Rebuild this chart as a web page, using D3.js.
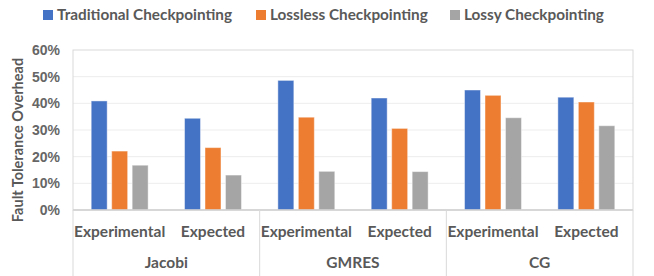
<!DOCTYPE html>
<html>
<head>
<meta charset="utf-8">
<script src="https://cdn.jsdelivr.net/npm/d3@7"></script>
<style>
  body { margin: 0; background: #fff; }
  text { font-family: Lato, "Open Sans", sans-serif; }
</style>
</head>
<body>
<div id="chart"></div>
<script>
// chart values
var groups = ["Jacobi", "GMRES", "CG"];
var subCategories = ["Experimental", "Expected"];
var seriesNames = ["Traditional Checkpointing", "Lossless Checkpointing", "Lossy Checkpointing"];
var seriesColors = ["#4472C4", "#ED7D31", "#A5A5A5"];
var traditional = [40.9, 34.4, 48.6, 42.0, 45.0, 42.3];
var lossless = [22.1, 23.4, 34.8, 30.6, 43.0, 40.5];
var lossy = [16.8, 13.1, 14.5, 14.4, 34.6, 31.6];
var yTicks = [0, 10, 20, 30, 40, 50, 60];

var width = 654, height = 276;
var margin = { top: 50, right: 21, bottom: 66, left: 73 };
var plotW = width - margin.left - margin.right;
var plotH = height - margin.top - margin.bottom;
var textColor = "#595959";

// one row per bar cluster
var categories = [];
groups.forEach(function (g) {
    subCategories.forEach(function (s) {
        categories.push({ group: g, sub: s, key: g + "|" + s });
    });
});
var seriesValues = [traditional, lossless, lossy];
categories.forEach(function (c, i) {
    c.values = seriesNames.map(function (n, j) {
        return { name: n, value: seriesValues[j][i], color: seriesColors[j] };
    });
});

var svg = d3.select("#chart").append("svg")
    .attr("width", width)
    .attr("height", height);

var g = svg.append("g")
    .attr("transform", "translate(" + margin.left + "," + margin.top + ")");

var x0 = d3.scaleBand()
    .domain(categories.map(function (d) { return d.key; }))
    .range([0, plotW])
    .padding(0);

var bw = x0.bandwidth();
var x1 = d3.scaleBand()
    .domain(seriesNames)
    .range([bw * 0.195, bw * 0.805])
    .paddingInner(0.22);

var xGroup = d3.scaleBand()
    .domain(groups)
    .range([0, plotW])
    .padding(0);

var y = d3.scaleLinear()
    .domain([0, 60])
    .range([plotH, 0]);

/*  gridlines  */
g.selectAll(".grid")
    .data(yTicks.slice(1, -1))
    .enter().append("line")
    .attr("class", "grid")
    .attr("x1", 0).attr("x2", plotW)
    .attr("y1", function (d) { return y(d); })
    .attr("y2", function (d) { return y(d); })
    .attr("stroke", "#EDEDED")
    .attr("stroke-width", 1);

/*  plot border  */
g.append("rect")
    .attr("x", 0).attr("y", 0)
    .attr("width", plotW).attr("height", plotH)
    .attr("fill", "none")
    .attr("stroke", "#D9D9D9")
    .attr("stroke-width", 1);

/*  y axis labels  */
var yAxis = g.append("g")
    .call(d3.axisLeft(y).tickValues(yTicks).tickSize(0).tickPadding(13)
        .tickFormat(function (d) { return d + "%"; }));
yAxis.select(".domain").remove();
yAxis.selectAll(".tick text")
    .style("font-family", "'Liberation Sans', Arial, sans-serif")
    .style("font-size", "14px")
    .style("font-weight", "700")
    .attr("fill", "#666666");

svg.append("text")
    .attr("transform", "translate(23," + (margin.top + plotH / 2 + 10) + ") rotate(-90)")
    .attr("text-anchor", "middle")
    .style("font-size", "14.5px")
    .style("font-weight", "700")
    .attr("fill", textColor)
    .text("Fault Tolerance Overhead");

/*  bars  */
var cluster = g.selectAll(".cluster")
    .data(categories)
    .enter().append("g")
    .attr("class", "cluster")
    .attr("transform", function (d) { return "translate(" + x0(d.key) + ",0)"; });

cluster.selectAll("rect")
    .data(function (d) { return d.values; })
    .enter().append("rect")
    .attr("x", function (d) { return x1(d.name); })
    .attr("width", x1.bandwidth())
    .attr("y", function (d) { return y(d.value); })
    .attr("height", function (d) { return plotH - y(d.value); })
    .attr("fill", function (d) { return d.color; })
    .attr("stroke", "#ffffff")
    .attr("stroke-opacity", 0.45)
    .attr("stroke-width", 1);

/*  x axis line and group separators  */
g.append("line")
    .attr("x1", 0).attr("x2", plotW)
    .attr("y1", plotH).attr("y2", plotH)
    .attr("stroke", "#D0D0D0")
    .attr("stroke-width", 1.5);

var seps = groups.map(function (d) { return xGroup(d); }).concat([plotW]);
g.selectAll(".sep")
    .data(seps)
    .enter().append("line")
    .attr("class", "sep")
    .attr("x1", function (d) { return d; })
    .attr("x2", function (d) { return d; })
    .attr("y1", plotH)
    .attr("y2", height - margin.top)
    .attr("stroke", "#D9D9D9")
    .attr("stroke-width", 1);

g.selectAll(".sub-label")
    .data(categories)
    .enter().append("text")
    .attr("class", "sub-label")
    .attr("x", function (d) { return x0(d.key) + bw / 2; })
    .attr("y", plotH + 27)
    .attr("text-anchor", "middle")
    .style("font-size", "15.5px")
    .style("font-weight", "700")
    .attr("fill", textColor)
    .text(function (d) { return d.sub; });

g.selectAll(".group-label")
    .data(groups)
    .enter().append("text")
    .attr("class", "group-label")
    .attr("x", function (d) { return xGroup(d) + xGroup.bandwidth() / 2; })
    .attr("y", plotH + 58)
    .attr("text-anchor", "middle")
    .style("font-size", "15.5px")
    .style("font-weight", "700")
    .attr("fill", textColor)
    .text(function (d) { return d; });

/*  legend  */
var legendX = [43, 256, 450];
var legend = svg.selectAll(".legend")
    .data(seriesNames)
    .enter().append("g")
    .attr("class", "legend")
    .attr("transform", function (d, i) { return "translate(" + legendX[i] + ",10)"; });

legend.append("rect")
    .attr("width", 10).attr("height", 10)
    .attr("fill", function (d, i) { return seriesColors[i]; });

legend.append("text")
    .attr("x", 14)
    .attr("y", 10)
    .style("font-size", "15.3px")
    .style("font-weight", "700")
    .attr("fill", textColor)
    .text(function (d) { return d; });
</script>
</body>
</html>
